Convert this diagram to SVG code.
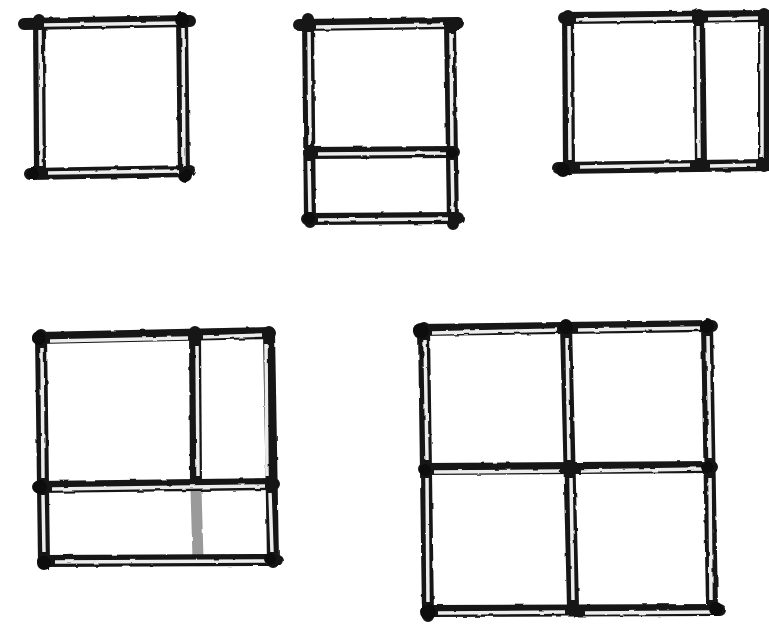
<svg xmlns="http://www.w3.org/2000/svg" width="769" height="627" viewBox="0 0 769 627">
<style>
.dk{fill:none;stroke:#141414;stroke-width:12;stroke-linecap:round;stroke-linejoin:round}
.lt{fill:none;stroke:#ececec;stroke-width:3.5;stroke-linecap:butt}
.gr{fill:none;stroke:#9a9a9a;stroke-width:11;stroke-linecap:round}
.kn{fill:#111}
</style>
<defs>
<filter id="rough" x="-5%" y="-5%" width="110%" height="110%">
<feTurbulence type="fractalNoise" baseFrequency="0.08" numOctaves="2" seed="3"/>
<feDisplacementMap in="SourceGraphic" scale="2.5"/>
</filter>
</defs>
<rect width="769" height="627" fill="#ffffff"/>
<g filter="url(#rough)">
<g id="frame1">
<path class="dk" d="M24 24 L190 21"/>
<path class="dk" d="M39 20 L40 173"/>
<path class="dk" d="M182 18 L184 176"/>
<path class="dk" d="M30 174 L190 171"/>
<path class="lt" d="M44 25 L177 23"/>
<path class="lt" d="M40 30 L41 166"/>
<path class="lt" d="M183 28 L184 166"/>
<path class="lt" d="M48 173 L178 171"/>
<circle class="kn" cx="182" cy="20" r="7"/>
<circle class="kn" cx="186" cy="176" r="7"/>
<circle class="kn" cx="33" cy="174" r="6"/>
</g>
<g id="frame2">
<path class="dk" d="M299 25 L458 23"/>
<path class="dk" d="M308 19 L310 222"/>
<path class="dk" d="M450 25 L453 224"/>
<path class="dk" d="M309 153 L454 152"/>
<path class="dk" d="M307 219 L458 218"/>
<path class="lt" d="M316 27 L444 25"/>
<path class="lt" d="M309 32 L310 145"/>
<path class="lt" d="M309 161 L310 212"/>
<path class="lt" d="M451 33 L452 146"/>
<path class="lt" d="M452 160 L453 212"/>
<path class="lt" d="M318 154 L445 153"/>
<path class="lt" d="M318 220 L448 219"/>
<circle class="kn" cx="309" cy="218" r="6"/>
<circle class="kn" cx="452" cy="153" r="5"/>
</g>
<g id="frame3">
<path class="dk" d="M564 18 L769 16"/>
<path class="dk" d="M568 16 L569 168"/>
<path class="dk" d="M699 15 L701 166"/>
<path class="dk" d="M764 14 L764 166"/>
<path class="dk" d="M558 168 L769 165"/>
<path class="lt" d="M576 20 L692 18"/>
<path class="lt" d="M708 19 L758 18"/>
<path class="lt" d="M569 26 L570 160"/>
<path class="lt" d="M698 26 L699 158"/>
<path class="lt" d="M762 26 L762 158"/>
<path class="lt" d="M580 167 L690 165"/>
<path class="lt" d="M710 166 L756 165"/>
<circle class="kn" cx="563" cy="170" r="7"/>
</g>
<g id="frame4">
<path class="dk" d="M38 338 L270 333"/>
<path class="dk" d="M41 335 L44 563"/>
<path class="dk" d="M195 332 L196 484"/>
<path class="gr" d="M196 490 L198 558"/>
<path class="dk" d="M269 332 L273 562"/>
<path class="dk" d="M38 487 L274 484"/>
<path class="dk" d="M43 561 L277 560"/>
<path class="lt" d="M50 341 L188 338"/>
<path class="lt" d="M203 337 L262 335"/>
<path class="lt" d="M42 348 L43 478"/>
<path class="lt" d="M43 495 L44 552"/>
<path class="lt" d="M197 346 L198 476"/>
<path class="lt" d="M266 344 L267 476"/>
<path class="lt" d="M270 493 L272 552"/>
<path class="lt" d="M52 489 L265 486"/>
<path class="lt" d="M55 562 L268 561"/>
<circle class="kn" cx="39" cy="338" r="7"/>
<circle class="kn" cx="40" cy="487" r="7"/>
<circle class="kn" cx="44" cy="563" r="7"/>
<circle class="kn" cx="270" cy="559" r="6"/>
</g>
<g id="frame5">
<path class="dk" d="M419 330 L712 326"/>
<path class="dk" d="M424 328 L428 616"/>
<path class="dk" d="M566 325 L573 607"/>
<path class="dk" d="M707 324 L712 608"/>
<path class="dk" d="M424 469 L712 467"/>
<path class="dk" d="M428 611 L720 610"/>
<path class="lt" d="M432 333 L558 330"/>
<path class="lt" d="M578 330 L700 328"/>
<path class="lt" d="M425 340 L427 460"/>
<path class="lt" d="M427 478 L428 602"/>
<path class="lt" d="M567 338 L569 460"/>
<path class="lt" d="M571 478 L573 600"/>
<path class="lt" d="M708 336 L710 458"/>
<path class="lt" d="M710 478 L711 600"/>
<path class="lt" d="M434 472 L560 471"/>
<path class="lt" d="M580 471 L702 469"/>
<path class="lt" d="M438 613 L565 612"/>
<path class="lt" d="M585 613 L712 612"/>
<circle class="kn" cx="421" cy="331" r="8"/>
<circle class="kn" cx="566" cy="327" r="7"/>
<circle class="kn" cx="707" cy="326" r="7"/>
<circle class="kn" cx="425" cy="470" r="6"/>
<circle class="kn" cx="707" cy="467" r="6"/>
<circle class="kn" cx="428" cy="612" r="8"/>
<circle class="kn" cx="716" cy="609" r="7"/>
</g>
</g>
</svg>
